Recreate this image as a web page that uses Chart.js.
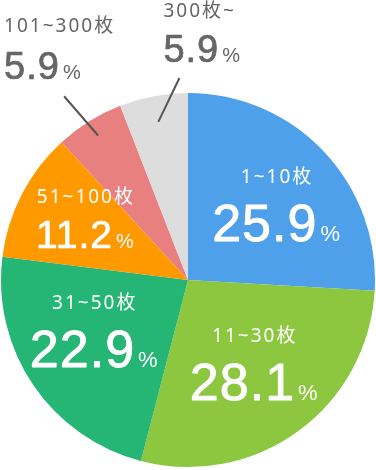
<!DOCTYPE html>
<html><head><meta charset="utf-8">
<script src="https://cdn.jsdelivr.net/npm/chart.js@4/dist/chart.umd.min.js"></script>
<style>html,body{margin:0;padding:0;background:#fff}#wrap{width:376px;height:470px;position:relative}</style>
</head><body><div id="wrap"><canvas id="c"></canvas></div>
<script>
const categories = ['1~10枚', '11~30枚', '31~50枚', '51~100枚', '101~300枚', '300枚~'];
const shares = [25.9, 28.1, 22.9, 11.2, 5.9, 5.9];
const sliceColors = ['#4fa0ea', '#8dc63f', '#25b574', '#ff9900', '#e88080', '#dddddd'];

// label styling / placement relative to each slice (f = fraction of radius, da = angle shift in degrees)
const labelLayout = [
  {inside: true, f: 0.636, da: 1.1, catDy: -22, valDy: 41, valSize: 52, pctSize: 22},
  {inside: true, f: 0.55, da: -3.7, catDy: -22, valDy: 41, valSize: 52, pctSize: 22},
  {inside: true, f: 0.56, da: 8.3, catDy: -22, valDy: 41, valSize: 52, pctSize: 22},
  {inside: true, f: 0.64, da: 3.2, catDy: -22, valDy: 28.5, valSize: 39, pctSize: 20},
  {inside: false, f1: 0.91, f2: 1.185, da2: -2.1, tx: -60, catDy: -70, valDy: -17, valSize: 38, pctSize: 20},
  {inside: false, f1: 0.86, f2: 1.081, da2: 8.2, tx: -16, catDy: -66, valDy: -16, valSize: 38, pctSize: 20}
];

const NUMFONT = '"Liberation Sans", "Noto Sans CJK JP", sans-serif';
const CATFONT = '"Noto Sans", "Noto Sans CJK JP", sans-serif';

function drawVal(ctx, txt, x, y, size, color) {
  ctx.font = `400 ${size}px ${NUMFONT}`;
  ctx.letterSpacing = '1px';
  ctx.fillStyle = color;
  ctx.strokeStyle = color;
  ctx.lineWidth = size > 45 ? 0.9 : 0.7;
  ctx.lineJoin = 'round';
  ctx.fillText(txt, x, y);
  ctx.strokeText(txt, x, y);
  const w = ctx.measureText(txt).width;
  ctx.letterSpacing = '0px';
  return w;
}

const labelPlugin = {
  id: 'sliceLabels',
  afterDatasetsDraw(chart) {
    const ctx = chart.ctx;
    const meta = chart.getDatasetMeta(0);
    meta.data.forEach((arc, i) => {
      const L = labelLayout[i];
      const mid = (arc.startAngle + arc.endAngle) / 2;
      const r = arc.outerRadius;
      const pt = (f, da) => {
        const a = mid + (da || 0) * Math.PI / 180;
        return {x: arc.x + Math.cos(a) * r * f, y: arc.y + Math.sin(a) * r * f};
      };
      const valText = shares[i].toFixed(1);
      const catFont = `400 19px ${CATFONT}`;
      ctx.save();
      ctx.textBaseline = 'alphabetic';
      ctx.textAlign = 'left';
      if (L.inside) {
        const p = pt(L.f, L.da);
        const col = '#ffffff';
        ctx.fillStyle = col;
        ctx.font = catFont;
        ctx.letterSpacing = '2px';
        const cw = ctx.measureText(categories[i]).width - 2;
        ctx.textBaseline = 'middle';
        ctx.fillText(categories[i], p.x - cw / 2, p.y + L.catDy);
        ctx.letterSpacing = '1px';
        ctx.textBaseline = 'alphabetic';
        ctx.font = `400 ${L.valSize}px ${NUMFONT}`;
        const w1 = ctx.measureText(valText).width;
        ctx.letterSpacing = '0px';
        ctx.font = `400 ${L.pctSize}px ${NUMFONT}`;
        const w2 = ctx.measureText('%').width;
        const gap = 3;
        const x0 = p.x - (w1 + gap + w2) / 2;
        drawVal(ctx, valText, x0, p.y + L.valDy, L.valSize, col);
        ctx.font = `400 ${L.pctSize}px ${NUMFONT}`;
        ctx.fillText('%', x0 + w1 + gap, p.y + L.valDy);
      } else {
        const a = pt(L.f1, 0);
        const b = pt(L.f2, L.da2);
        ctx.strokeStyle = '#555555';
        ctx.lineWidth = 2;
        ctx.beginPath();
        ctx.moveTo(a.x, a.y);
        ctx.lineTo(b.x, b.y);
        ctx.stroke();
        const col = '#666666';
        ctx.fillStyle = col;
        ctx.font = catFont;
        ctx.letterSpacing = '2px';
        ctx.textBaseline = 'middle';
        ctx.fillText(categories[i], b.x + L.tx, b.y + L.catDy);
        ctx.letterSpacing = '0px';
        ctx.textBaseline = 'alphabetic';
        const w1 = drawVal(ctx, valText, b.x + L.tx, b.y + L.valDy, L.valSize, col);
        ctx.font = `400 ${L.pctSize}px ${NUMFONT}`;
        ctx.fillText('%', b.x + L.tx + w1 + 3, b.y + L.valDy);
      }
      ctx.restore();
    });
  }
};

new Chart(document.getElementById('c'), {
  type: 'pie',
  data: {
    labels: categories,
    datasets: [{data: shares, backgroundColor: sliceColors, borderWidth: 0}]
  },
  options: {
    responsive: true,
    maintainAspectRatio: false,
    animation: false,
    layout: {padding: {top: 93, bottom: 3, left: 0, right: 0}},
    plugins: {legend: {display: false}, tooltip: {enabled: false}}
  },
  plugins: [labelPlugin]
});
</script>
</body></html>
